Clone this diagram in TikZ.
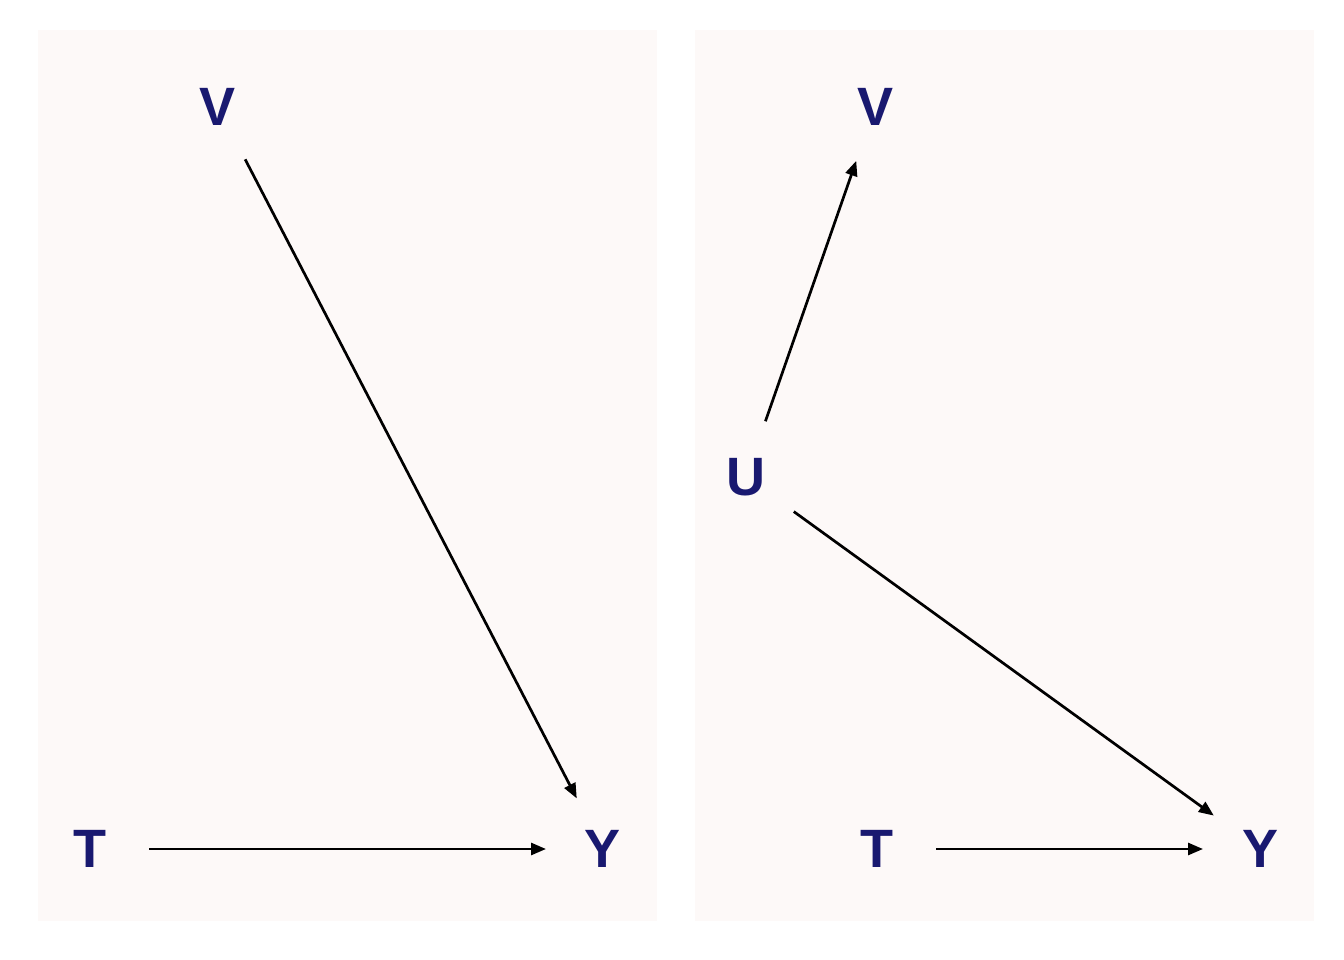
\documentclass[tikz,border=0pt]{standalone}
\usepackage{fontspec}
\setmainfont{Liberation Sans}
\usetikzlibrary{arrows.meta}
\definecolor{panelbg}{HTML}{FDF9F8}
\definecolor{nodetext}{HTML}{191970}
\tikzset{
  var/.style={text=nodetext,font=\fontsize{54}{54}\selectfont\bfseries,inner sep=0pt},
  edge/.style={line width=2.7pt,-{Triangle[length=15pt,width=12pt]},shorten <=59pt,shorten >=57pt},
  panel/.style={fill=panelbg,draw=none}
}
\begin{document}
\begin{tikzpicture}[x=1pt,y=-1pt]
\useasboundingbox (0,0) rectangle (1344,960);
\fill[white] (0,0) rectangle (1344,960);
\fill[panel] (38,30) rectangle (657,921);
\fill[panel] (695,30) rectangle (1314,921);
% left panel
\node[var] (V1) at (218,107) {V};
\node[var] (T1) at (90,849) {T};
\node[var] (Y1) at (603,849) {Y};
\draw[edge] (V1.center) -- (Y1.center);
\draw[edge] (T1.center) -- (Y1.center);
% right panel
\node[var] (V2) at (875,107) {V};
\node[var] (U2) at (746,477) {U};
\node[var] (T2) at (877,849) {T};
\node[var] (Y2) at (1260,849) {Y};
\draw[edge] (U2.center) -- (V2.center);
\draw[edge] (U2.center) -- (Y2.center);
\draw[edge] (T2.center) -- (Y2.center);
\end{tikzpicture}
\end{document}
